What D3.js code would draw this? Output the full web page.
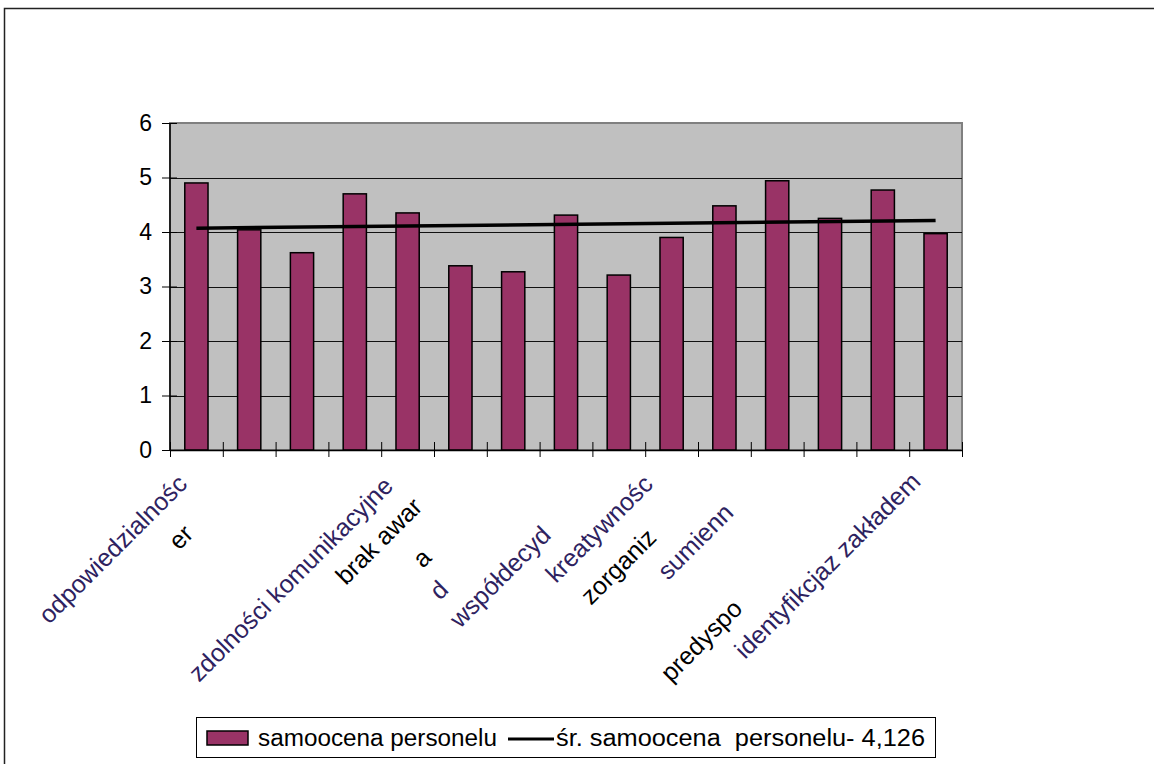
<!DOCTYPE html>
<html>

<head>
    <meta charset="utf-8">
    <title>samoocena personelu</title>
    <script src="https://d3js.org/d3.v7.min.js"></script>
    <style>
        body { margin: 0; background: #fff; }
        text { font-family: "Liberation Sans", Arial, sans-serif; }
    </style>
</head>

<body>
    <div id='view'></div>

    <script>
        // category labels as they show under the axis (the rest are cut off)
        var categories = ["odpowiedzialnośc", "er", "zdolności komunikacyjne", "brak awar", "a", "d",
            "współdecyd", "kreatywnośc", "zorganiz", "sumienn", "predyspo", "identyfikcjaz zakładem", "", "", ""];
        var values = [4.90, 4.04, 3.62, 4.70, 4.35, 3.38, 3.27, 4.31, 3.21, 3.90, 4.48, 4.94, 4.25, 4.77, 3.97];
        // average line: first and last category
        var avgIdx = [0, 14];
        var avgVals = [4.07, 4.21];
        var yTicks = [0, 1, 2, 3, 4, 5, 6];
        var seriesNames = ["samoocena personelu", "śr. samoocena  personelu- 4,126"];

        var width = 1154;
        var height = 764;
        var plot = { left: 170, top: 123, right: 962, bottom: 450 };

        var svg = d3.select("#view")
            .append("svg")
            .attr("width", width)
            .attr("height", height);

        // outer frame
        svg.append("rect")
            .attr("x", 4.5).attr("y", 8.5)
            .attr("width", width + 10).attr("height", height + 10)
            .attr("fill", "none").attr("stroke", "#222").attr("stroke-width", 1.5);

        var x = d3.scaleBand()
            .domain(d3.range(categories.length))
            .range([plot.left, plot.right])
            .paddingInner(0.56).paddingOuter(0.28);

        var y = d3.scaleLinear().domain([0, 6]).range([plot.bottom, plot.top]);

        // plot area
        svg.append("rect")
            .attr("x", plot.left).attr("y", plot.top)
            .attr("width", plot.right - plot.left).attr("height", plot.bottom - plot.top)
            .attr("fill", "#c0c0c0").attr("stroke", "#808080").attr("stroke-width", 2);

        svg.append("g").selectAll("line")
            .data(yTicks.filter(function (d) { return d > 0 && d < 6; }))
            .enter().append("line")
            .attr("x1", plot.left).attr("x2", plot.right)
            .attr("y1", function (d) { return Math.round(y(d)) + 0.5; })
            .attr("y2", function (d) { return Math.round(y(d)) + 0.5; })
            .attr("stroke", "#111").attr("stroke-width", 1);

        // bars
        svg.append("g").selectAll("rect")
            .data(values)
            .enter().append("rect")
            .attr("x", function (d, i) { return x(i); })
            .attr("y", function (d) { return y(d); })
            .attr("width", x.bandwidth())
            .attr("height", function (d) { return y(0) - y(d); })
            .attr("fill", "#993366")
            .attr("stroke", "#000").attr("stroke-width", 1.5);

        // average line
        var line = d3.line()
            .x(function (d, i) { return x(avgIdx[i]) + x.bandwidth() / 2; })
            .y(function (d) { return y(d); });
        svg.append("path")
            .datum(avgVals)
            .attr("d", line)
            .attr("fill", "none").attr("stroke", "#000").attr("stroke-width", 3.5);

        // y axis
        var yAxis = svg.append("g")
            .attr("transform", "translate(" + plot.left + ",0)")
            .call(d3.axisLeft(y).tickValues(yTicks).tickFormat(d3.format("d")).tickSize(8).tickPadding(10));
        yAxis.selectAll(".tick line").attr("x2", -8).attr("x1", 7).attr("stroke", "#000");
        yAxis.select("path").attr("stroke", "#000").attr("stroke-width", 1.5).attr("d", "M0," + plot.top + "V" + plot.bottom);
        yAxis.selectAll("text").attr("font-size", 23).attr("fill", "#000")
            .attr("font-family", "Liberation Sans, Arial, sans-serif").attr("x", -18);

        // x axis, ticks between categories
        var xb = d3.scaleLinear().domain([0, categories.length]).range([plot.left, plot.right]);
        var xAxis = svg.append("g")
            .attr("transform", "translate(0," + plot.bottom + ")")
            .call(d3.axisBottom(xb).ticks(categories.length).tickFormat("").tickSizeInner(7).tickSizeOuter(0));
        xAxis.selectAll(".tick line").attr("y1", -8).attr("stroke", "#000");
        xAxis.select("path").attr("stroke", "#000").attr("stroke-width", 1.5);

        // category labels (rotated, staggered as in the original)
        var labelStart = [[49, 625], [179, 551], [199, 683], [346, 586], [423, 569], [440, 601],
            [460, 629], [556, 584], [591, 606], [668, 581], [671, 683], [745, 660]];
        var inked = [true, false, true, false, false, true, true, true, false, true, false, true];
        svg.append("g").selectAll("text")
            .data(categories.filter(function (d) { return d !== ""; }))
            .enter().append("text")
            .attr("transform", function (d, i) {
                return "translate(" + labelStart[i][0] + "," + labelStart[i][1] + ") rotate(-45)";
            })
            .attr("font-size", 25)
            .attr("fill", function (d, i) { return inked[i] ? "#2e2260" : "#000"; })
            .text(function (d) { return d; });

        // legend
        var lg = svg.append("g");
        lg.append("rect")
            .attr("x", 196.5).attr("y", 717.5).attr("width", 739).attr("height", 40)
            .attr("fill", "#fff").attr("stroke", "#000").attr("stroke-width", 1);
        lg.append("rect")
            .attr("x", 207).attr("y", 731).attr("width", 41).attr("height", 14)
            .attr("fill", "#993366").attr("stroke", "#000").attr("stroke-width", 1.5);
        lg.append("text")
            .attr("x", 258).attr("y", 746).attr("font-size", 23)
            .attr("textLength", 239).attr("lengthAdjust", "spacingAndGlyphs")
            .text(seriesNames[0]);
        lg.append("line")
            .attr("x1", 508).attr("x2", 554).attr("y1", 739).attr("y2", 739)
            .attr("stroke", "#000").attr("stroke-width", 3);
        lg.append("text")
            .attr("x", 556).attr("y", 746).attr("font-size", 23)
            .attr("textLength", 369).attr("lengthAdjust", "spacingAndGlyphs")
            .style("white-space", "pre")
            .text(seriesNames[1]);
    </script>

</body>

</html>
